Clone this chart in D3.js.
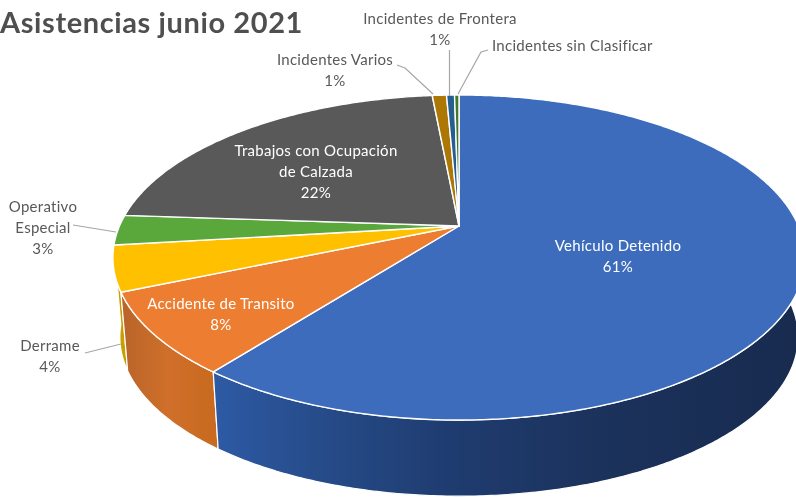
<!DOCTYPE html>
<html>
<head>
<meta charset="utf-8">
<script src="https://d3js.org/d3.v7.min.js"></script>
<style>
  html, body { margin: 0; padding: 0; background: #fff; }
  svg { display: block; filter: blur(0.45px); }
  text { font-family: Lato, "Open Sans", sans-serif; }
</style>
</head>
<body>
<svg id="chart" width="796" height="497"></svg>
<script>
// Values (share of the pie, the thin slices are estimates)
var categories = ["Vehículo Detenido", "Accidente de Transito", "Derrame", "Operativo Especial",
    "Trabajos con Ocupación de Calzada", "Incidentes Varios", "Incidentes de Frontera", "Incidentes sin Clasificar"];
var values = [60.5, 8.1, 4.5, 3, 22.4, 0.8, 0.45, 0.25];
var percentLabels = ["61%", "8%", "4%", "3%", "22%", "1%", "1%", ""];
var title = "Asistencias junio 2021";

var topColors = ["#3d6cbd", "#ed7d31", "#ffc000", "#5aa73c", "#595959", "#ad7706", "#255e91", "#43782b"];

// Perspective of the tilted disc
var apex = [459, 226], radiusX = 339.5, radiusY = 156.4, tilt = 0.194;
var depth = 80, bottomScale = 0.98;

function project(angle, scale, offset) {
    var u = Math.sin(angle), v = -Math.cos(angle), w = 1 - tilt * v;
    return [apex[0] + scale * radiusX * u / w, apex[1] + offset + scale * radiusY * v / w];
}

function arcPoints(a0, a1, scale, offset) {
    var n = Math.max(2, Math.ceil((a1 - a0) / 0.01));
    return d3.range(n + 1).map(i => project(a0 + (a1 - a0) * i / n, scale, offset));
}

var svg = d3.select("#chart");
var line = d3.line();
var slices = d3.pie().sort(null)(values);

// Gradients for the side wall
var defs = svg.append("defs");
var wallGradients = [
    ["wall0", 210, 800, [[0, "#2e5ba6"], [0.18, "#264c8a"], [0.4, "#1f3c70"], [0.66, "#1b325c"], [1, "#182b4f"]]],
    ["wall1", 120, 215, [[0, "#b8642a"], [0.5, "#cf6f2a"], [1, "#c96a20"]]]
];
wallGradients.forEach(function (g) {
    var grad = defs.append("linearGradient")
        .attr("id", g[0])
        .attr("gradientUnits", "userSpaceOnUse")
        .attr("x1", g[1]).attr("x2", g[2]).attr("y1", 0).attr("y2", 0);
    g[3].forEach(s => grad.append("stop").attr("offset", s[0]).attr("stop-color", s[1]));
});

// Side wall, only the first slices face the viewer
var wallFills = ["url(#wall0)", "url(#wall1)", "#c79f00"];
svg.append("g").selectAll("path")
    .data(slices.slice(0, 3).reverse())
    .enter().append("path")
    .attr("fill", d => wallFills[d.index])
    .attr("stroke", "#fff")
    .attr("stroke-width", 1.2)
    .attr("d", function (d) {
        var upper = arcPoints(d.startAngle, d.endAngle, 1, 0);
        var lower = arcPoints(d.startAngle, d.endAngle, bottomScale, depth).reverse();
        return line(upper.concat(lower)) + "Z";
    });

// Top face
svg.append("g").selectAll("path")
    .data(slices)
    .enter().append("path")
    .attr("fill", d => topColors[d.index])
    .attr("stroke", "#fff")
    .attr("stroke-width", 1.4)
    .attr("stroke-linejoin", "round")
    .attr("d", d => line([apex].concat(arcPoints(d.startAngle, d.endAngle, 1, 0))) + "Z");

// Leader lines
var leaders = [
    [[449.5, 50], [449.5, 96]],
    [[488, 50], [481, 52], [458, 94]],
    [[397, 65], [405, 68], [433, 94]],
    [[73, 225], [116, 232]],
    [[85, 353], [121, 344]]
];
svg.append("g").selectAll("path")
    .data(leaders)
    .enter().append("path")
    .attr("fill", "none")
    .attr("stroke", "#a6a6a6")
    .attr("stroke-width", 1.2)
    .attr("d", d => line(d));

// Title
svg.append("text")
    .attr("x", 0)
    .attr("y", 33)
    .attr("font-size", 29)
    .attr("letter-spacing", 0.6)
    .attr("font-weight", "bold")
    .attr("fill", "#4f4f4f")
    .text(title);

// Data labels, one row per text line
var labelRows = [
    {lines: ["Vehículo Detenido", percentLabels[0]], x: 618, y: 251, fill: "#fff"},
    {lines: ["Accidente de Transito", percentLabels[1]], x: 221, y: 309, fill: "#fff"},
    {lines: ["Derrame", percentLabels[2]], x: 50, y: 351, fill: "#595959"},
    {lines: ["Operativo", "Especial", percentLabels[3]], x: 43, y: 212, fill: "#595959"},
    {lines: ["Trabajos con Ocupación", "de Calzada", percentLabels[4]], x: 316, y: 156, fill: "#fff"},
    {lines: ["Incidentes Varios", percentLabels[5]], x: 335, y: 65, fill: "#595959"},
    {lines: ["Incidentes de Frontera", percentLabels[6]], x: 440, y: 24, fill: "#595959"},
    {lines: ["Incidentes sin Clasificar"], x: 492, y: 51, fill: "#595959", anchor: "start"}
];

var labels = svg.append("g").selectAll("text")
    .data(labelRows)
    .enter().append("text")
    .attr("font-size", 15)
    .attr("letter-spacing", 0.28)
    .attr("fill", d => d.fill)
    .attr("text-anchor", d => d.anchor || "middle");

labels.selectAll("tspan")
    .data(d => d.lines.map((t, i) => ({t: t, i: i, x: d.x, y: d.y})))
    .enter().append("tspan")
    .attr("x", d => d.x)
    .attr("y", d => d.y + d.i * 21)
    .text(d => d.t);
</script>
</body>
</html>
